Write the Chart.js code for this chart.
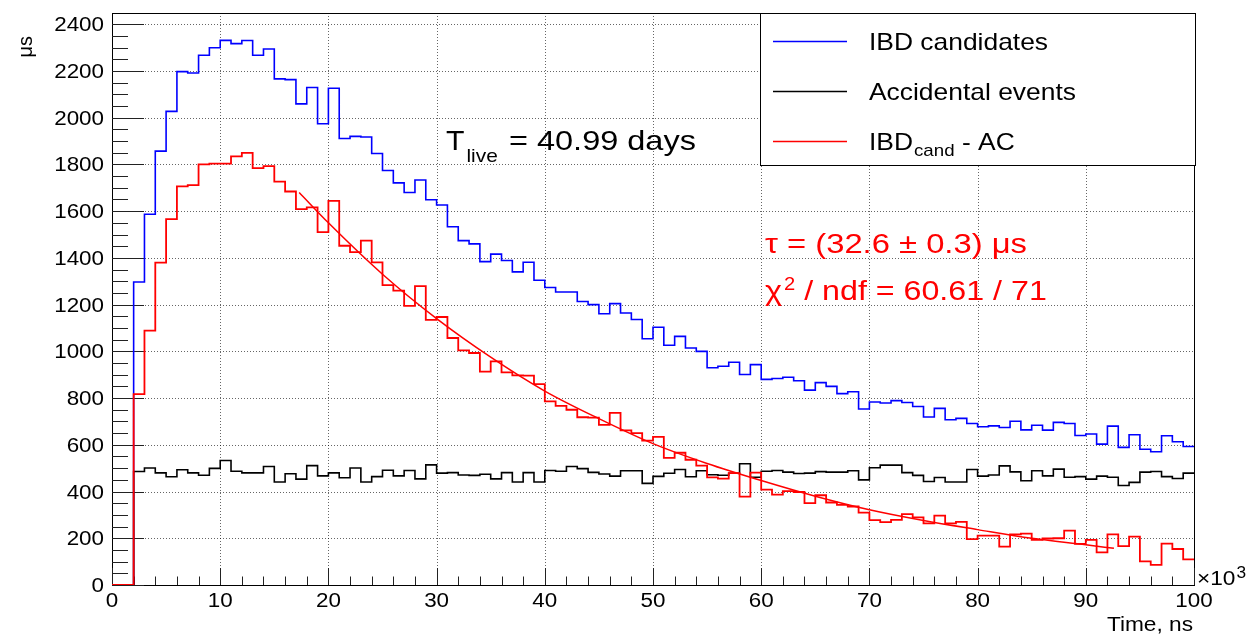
<!DOCTYPE html>
<html>
<head>
<meta charset="utf-8">
<title>IBD time distribution</title>
<script src="https://cdn.jsdelivr.net/npm/chart.js@4.4.0/dist/chart.umd.min.js"></script>
<style>
  html, body { margin: 0; padding: 0; background: #ffffff; }
  #wrap { width: 1251px; height: 638px; }
</style>
</head>
<body>
<div id="wrap"><canvas id="timeChart" width="1251" height="638"></canvas></div>
<script>
// lower edge of each 1 us bin (axis is in 10^3 ns)
var binLow = [0, 1, 2, 3, 4, 5, 6, 7, 8, 9, 10, 11, 12, 13, 14, 15, 16, 17, 18, 19,
  20, 21, 22, 23, 24, 25, 26, 27, 28, 29, 30, 31, 32, 33, 34, 35, 36, 37, 38, 39,
  40, 41, 42, 43, 44, 45, 46, 47, 48, 49, 50, 51, 52, 53, 54, 55, 56, 57, 58, 59,
  60, 61, 62, 63, 64, 65, 66, 67, 68, 69, 70, 71, 72, 73, 74, 75, 76, 77, 78, 79,
  80, 81, 82, 83, 84, 85, 86, 87, 88, 89, 90, 91, 92, 93, 94, 95, 96, 97, 98, 99];
var binHighLast = 100;

// IBD candidates (blue)
var ibdCand = [0, 0, 1297, 1587, 1857, 2027, 2197, 2191, 2267, 2299,
  2331, 2317, 2330, 2267, 2294, 2166, 2163, 2059, 2129, 1974,
  2126, 1911, 1920, 1917, 1847, 1774, 1721, 1680, 1733, 1649,
  1626, 1533, 1474, 1460, 1384, 1416, 1389, 1340, 1381, 1304,
  1273, 1254, 1254, 1213, 1200, 1161, 1204, 1164, 1136, 1054,
  1103, 1026, 1064, 1014, 1000, 930, 936, 953, 901, 943,
  880, 884, 889, 874, 834, 866, 850, 819, 827, 753,
  783, 779, 789, 781, 764, 719, 756, 707, 713, 691,
  677, 681, 674, 701, 664, 684, 663, 696, 691, 640,
  646, 603, 680, 589, 643, 581, 570, 639, 613, 593];

// Accidental events (black)
var accidental = [0, 0, 486, 501, 480, 463, 493, 480, 470, 499,
  533, 487, 480, 480, 507, 441, 476, 453, 511, 467,
  480, 459, 501, 441, 464, 491, 467, 490, 454, 514,
  479, 481, 471, 469, 474, 454, 481, 441, 481, 441,
  490, 487, 507, 498, 482, 475, 466, 489, 489, 435,
  465, 478, 494, 463, 489, 472, 470, 478, 519, 461,
  487, 490, 483, 477, 479, 485, 483, 483, 489, 450,
  502, 513, 513, 481, 469, 443, 460, 441, 441, 494,
  466, 471, 510, 484, 446, 489, 467, 496, 461, 464,
  453, 466, 461, 426, 439, 483, 486, 464, 456, 479];

// IBD candidates minus accidentals (red)
var ibdMinusAc = [0, 0, 817, 1089, 1380, 1566, 1706, 1711, 1800, 1803,
  1803, 1834, 1849, 1784, 1793, 1726, 1684, 1609, 1616, 1510,
  1644, 1452, 1425, 1474, 1381, 1283, 1260, 1195, 1279, 1135,
  1147, 1057, 1004, 993, 913, 957, 910, 897, 896, 860,
  786, 767, 750, 718, 716, 685, 737, 662, 650, 618,
  634, 544, 566, 536, 511, 461, 455, 479, 378, 481,
  408, 387, 402, 398, 350, 384, 353, 343, 336, 310,
  278, 269, 279, 303, 289, 264, 297, 264, 270, 196,
  211, 211, 164, 217, 220, 193, 199, 200, 233, 176,
  193, 140, 217, 166, 207, 101, 86, 177, 154, 110];

// exponential fit curve
var fitTime = [17.3, 20, 25, 30, 35, 40, 45, 50, 55, 60, 65, 70, 75, 80, 85, 90, 92.6];
var fitValue = [1680, 1550, 1330, 1140, 975, 830, 712, 605, 520, 447, 380, 322, 276, 237, 200, 172, 157];

var xTickValues = [0, 10, 20, 30, 40, 50, 60, 70, 80, 90, 100];
var xTickLabels = ['0', '10', '20', '30', '40', '50', '60', '70', '80', '90', '100'];
var yTickValues = [0, 200, 400, 600, 800, 1000, 1200, 1400, 1600, 1800, 2000, 2200, 2400];
var yTickLabels = ['0', '200', '400', '600', '800', '1000', '1200', '1400', '1600', '1800', '2000', '2200', '2400'];

var FONT = '"Liberation Sans", Arial, Helvetica, sans-serif';

function histPoints(values) {
  var pts = values.map(function (v, i) { return { x: binLow[i], y: v }; });
  pts.push({ x: binHighLast, y: values[values.length - 1] });
  return pts;
}

// draws text with a slight horizontal stretch, returns the drawn width
function putText(ctx, str, x, y, size, sx, color, align) {
  ctx.save();
  ctx.font = size + 'px ' + FONT;
  ctx.fillStyle = color || '#000';
  ctx.textAlign = align || 'left';
  ctx.textBaseline = 'alphabetic';
  ctx.translate(x, y);
  ctx.scale(sx, 1);
  ctx.fillText(str, 0, 0);
  var w = ctx.measureText(str).width * sx;
  ctx.restore();
  return w;
}

var rootStyle = {
  id: 'rootStyle',
  beforeDatasetsDraw: function (chart) {
    var ctx = chart.ctx, a = chart.chartArea;
    var xs = chart.scales.x, ys = chart.scales.y;
    ctx.save();
    // dotted grid
    ctx.strokeStyle = 'rgba(0,0,0,0.6)';
    ctx.lineWidth = 1;
    ctx.setLineDash([1, 2]);
    xTickValues.forEach(function (v) {
      var px = Math.round(xs.getPixelForValue(v)) + 0.5;
      ctx.beginPath(); ctx.moveTo(px, a.top); ctx.lineTo(px, a.bottom); ctx.stroke();
    });
    yTickValues.forEach(function (v) {
      var py = Math.round(ys.getPixelForValue(v)) + 0.5;
      ctx.beginPath(); ctx.moveTo(a.left, py); ctx.lineTo(a.right, py); ctx.stroke();
    });
    ctx.setLineDash([]);

    // frame
    ctx.strokeStyle = '#000';
    ctx.strokeRect(a.left + 0.5, a.top + 0.5, a.right - a.left, a.bottom - a.top);

    // inward ticks
    ctx.strokeStyle = '#222';
    ctx.beginPath();
    for (var xv = 0; xv <= 100; xv += 2) {
      var px = Math.round(xs.getPixelForValue(xv)) + 0.5;
      var len = (xv % 10 === 0) ? 17 : 8.5;
      ctx.moveTo(px, a.bottom); ctx.lineTo(px, a.bottom - len);
    }
    for (var yv = 0; yv <= 2400; yv += 50) {
      var py = Math.round(ys.getPixelForValue(yv)) + 0.5;
      var ylen = (yv % 200 === 0) ? 32 : 16;
      ctx.moveTo(a.left, py); ctx.lineTo(a.left + ylen, py);
    }
    ctx.stroke();
    ctx.restore();
  },
  afterDatasetsDraw: function (chart) {
    var ctx = chart.ctx, a = chart.chartArea;
    var xs = chart.scales.x, ys = chart.scales.y;

    // tick labels
    yTickValues.forEach(function (v, i) {
      putText(ctx, yTickLabels[i], 104, ys.getPixelForValue(v) + 7, 20, 1.12, '#000', 'right');
    });
    xTickValues.forEach(function (v, i) {
      putText(ctx, xTickLabels[i], xs.getPixelForValue(v), 607, 20, 1.12, '#000', 'center');
    });

    // axis titles
    putText(ctx, 'Time, ns', 1193, 631, 21, 1.08, '#000', 'right');
    var w = putText(ctx, '\u00d710', 1197, 585, 21, 1.08, '#000', 'left');
    putText(ctx, '3', 1197 + w + 1, 578, 16, 1.08, '#000', 'left');
    ctx.save();
    ctx.translate(32, 36);
    ctx.rotate(-Math.PI / 2);
    putText(ctx, '\u03bcs', 0, 0, 20, 1.0, '#000', 'right');
    ctx.restore();

    // live time label
    var tx = 446;
    tx += putText(ctx, 'T', tx, 149.5, 27, 1.12, '#000');
    putText(ctx, 'live', tx + 2, 162, 19, 1.1, '#000');
    putText(ctx, '= 40.99 days', 509, 149.5, 28, 1.16, '#000');

    // fit results
    putText(ctx, '\u03c4 = (32.6 \u00b1 0.3) \u03bcs', 765, 253, 28, 1.17, '#ff0000');
    var cx = 765;
    cx += putText(ctx, '\u03c7', cx, 300, 28, 1.16, '#ff0000');
    cx += putText(ctx, '2', cx + 2, 290, 18, 1.12, '#ff0000') + 2;
    putText(ctx, ' / ndf = 60.61 / 71', cx, 300, 28, 1.15, '#ff0000');

    // legend
    ctx.save();
    var lx = 760, ly = 13, lw = 1195 - 760, lh = 165 - 13;
    ctx.fillStyle = '#fff';
    ctx.fillRect(lx, ly, lw, lh);
    ctx.strokeStyle = '#000';
    ctx.lineWidth = 1;
    ctx.strokeRect(lx + 0.5, ly + 0.5, lw, lh);
    var rows = [
      { color: '#0000ff', y: 41 },
      { color: '#000000', y: 91 },
      { color: '#ff0000', y: 141 }
    ];
    ctx.lineWidth = 1.5;
    rows.forEach(function (r) {
      ctx.strokeStyle = r.color;
      ctx.beginPath(); ctx.moveTo(773, r.y + 0.5); ctx.lineTo(847, r.y + 0.5); ctx.stroke();
    });
    ctx.restore();
    putText(ctx, 'IBD candidates', 869, 50, 24, 1.1, '#000');
    putText(ctx, 'Accidental events', 869, 100, 24, 1.1, '#000');
    var gx = 869;
    gx += putText(ctx, 'IBD', gx, 150, 24, 1.1, '#000');
    gx += putText(ctx, 'cand', gx + 1, 156, 17, 1.1, '#000') + 1;
    putText(ctx, ' - AC', gx, 150, 24, 1.1, '#000');
  }
};

var ctx = document.getElementById('timeChart').getContext('2d');
var timeChart = new Chart(ctx, {
  type: 'line',
  data: {
    datasets: [{
      label: 'fit',
      data: fitTime.map(function (t, i) { return { x: t, y: fitValue[i] }; }),
      borderColor: '#ff0000',
      borderWidth: 1.5,
      pointRadius: 0,
      cubicInterpolationMode: 'monotone',
      order: 0
    }, {
      label: 'IBD_cand - AC',
      data: histPoints(ibdMinusAc),
      borderColor: '#ff0000',
      borderWidth: 1.8,
      pointRadius: 0,
      stepped: true,
      order: 1
    }, {
      label: 'Accidental events',
      data: histPoints(accidental),
      borderColor: '#000000',
      borderWidth: 1.6,
      pointRadius: 0,
      stepped: true,
      order: 2
    }, {
      label: 'IBD candidates',
      data: histPoints(ibdCand),
      borderColor: '#0000ff',
      borderWidth: 1.6,
      pointRadius: 0,
      stepped: true,
      order: 3
    }]
  },
  options: {
    responsive: false,
    animation: false,
    devicePixelRatio: 1,
    layout: { padding: { left: 112, right: 57, top: 13, bottom: 53 } },
    plugins: {
      legend: { display: false },
      tooltip: { enabled: false }
    },
    scales: {
      x: { type: 'linear', display: false, min: 0, max: 100 },
      y: { type: 'linear', display: false, min: 0, max: 2448 }
    }
  },
  plugins: [rootStyle]
});
</script>
</body>
</html>
